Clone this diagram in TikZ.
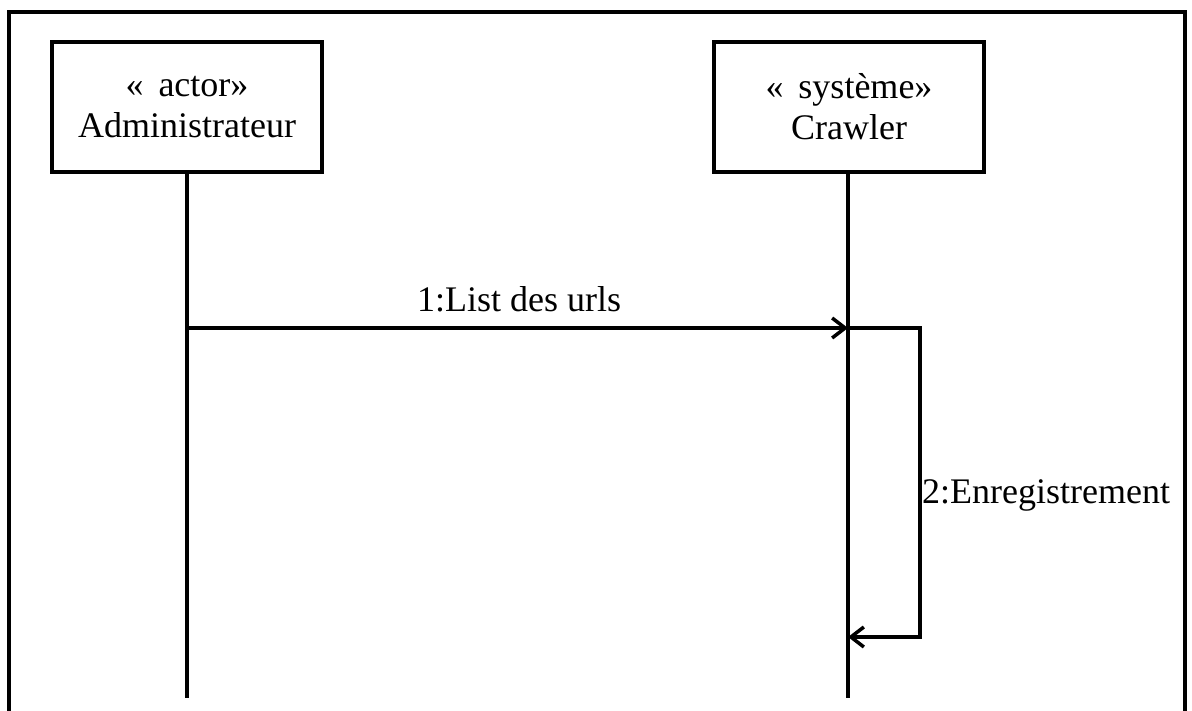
\documentclass[tikz,border=0pt]{standalone}
\usepackage{fontspec}
\setmainfont{Liberation Serif}
\usetikzlibrary{arrows.meta}
\begin{document}
\begin{tikzpicture}[x=1pt,y=-1pt,
  lifebox/.style={draw, line width=3.5pt, minimum width=270pt, minimum height=130pt,
    align=center, inner sep=0pt, font=\fontsize{36}{41}\selectfont},
  lifeline/.style={line width=3.5pt},
  msg/.style={line width=3.5pt, -{Straight Barb[length=13pt,width=20pt]}},
  lbl/.style={font=\fontsize{36}{41}\selectfont, inner sep=0pt, anchor=base}]
\useasboundingbox (0,0) rectangle (1192,711);
% outer frame (open at the bottom edge of the page)
\draw[line width=3.5pt] (9,720) -- (9,12) -- (1185,12) -- (1185,720);

% participants
\node[lifebox] (admin) at (187,107) {« \,actor»\\Administrateur};
\node[lifebox] (crawler) at (849,107) {« \,système»\\Crawler};

% lifelines
\coordinate (admin-end) at (187,698);
\coordinate (crawler-end) at (848,698);
\draw[lifeline] (admin.south -| admin-end) -- (admin-end);
\draw[lifeline] (crawler.south -| crawler-end) -- (crawler-end);

% message points
\coordinate (m1-start) at (187,328);
\coordinate (m1-end) at (848,328);
\coordinate (self-a) at (920,328);
\coordinate (self-b) at (920,637);
\coordinate (self-end) at (848,637);

% 1: admin -> crawler
\draw[msg] (m1-start) -- (m1-end);
\node[lbl] (lbl1) at (519,312) {1:List des urls};

% 2: self message on crawler
\draw[msg, line join=miter] (m1-end) -- (self-a) -- (self-b) -- (self-end);
\node[lbl, anchor=base west] (lbl2) at (922,503) {2:Enregistrement};
\end{tikzpicture}
\end{document}
